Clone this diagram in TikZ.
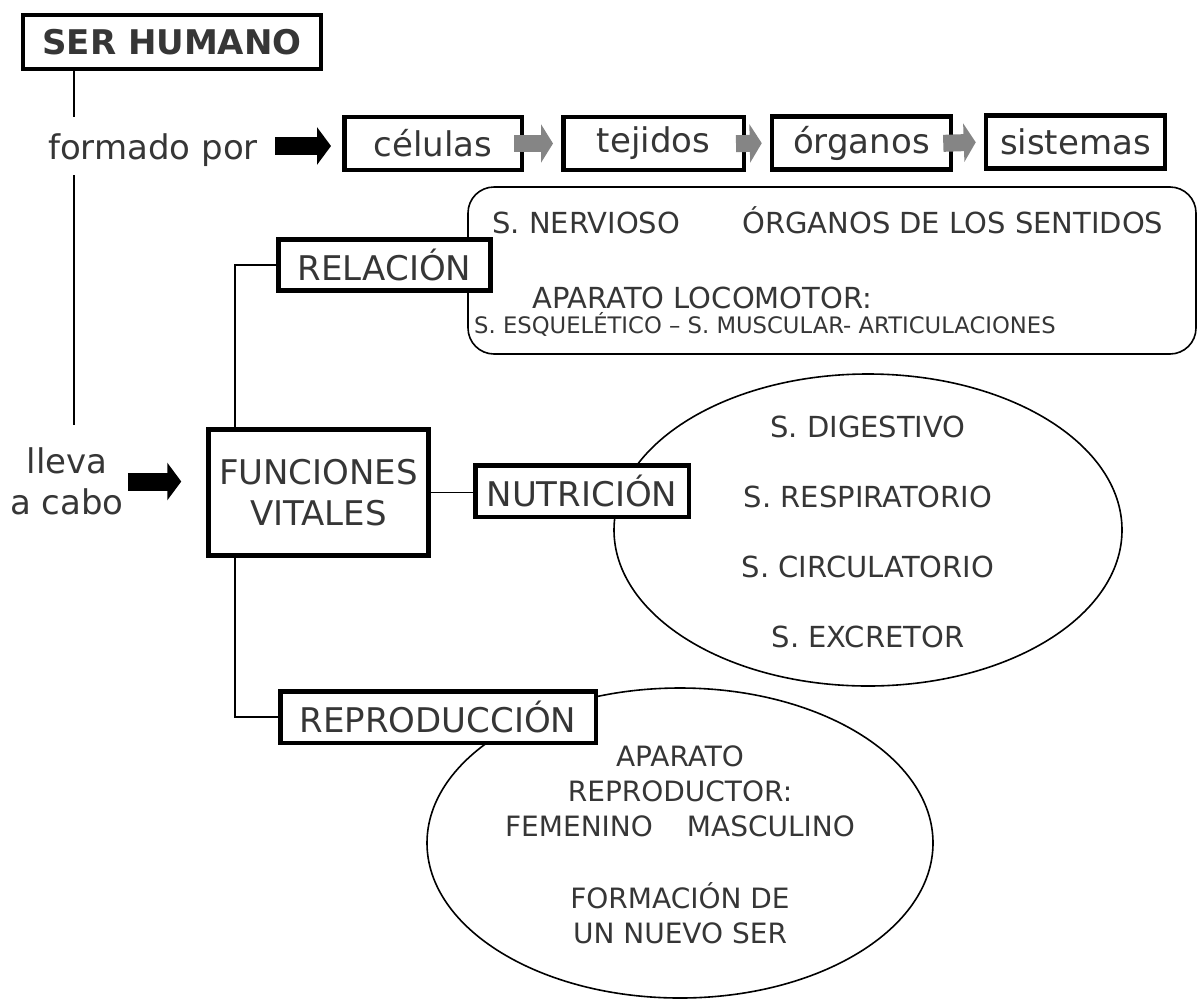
\documentclass[tikz,border=0pt]{standalone}
\usepackage{fontspec}
\setmainfont{DejaVu Sans}
\usetikzlibrary{arrows.meta,positioning,shapes.geometric}
\definecolor{ink}{HTML}{363636}
\definecolor{arrowgray}{HTML}{858585}
\newcommand{\fsbox}{\fontsize{34}{41}\selectfont}
\newcommand{\fsitem}{\fontsize{29}{35}\selectfont}
\newcommand{\fssmall}{\fontsize{22.7}{26}\selectfont}

\begin{document}
\begin{tikzpicture}[x=1pt, y=-1pt,
    every node/.style={text=ink, inner sep=0pt},
    box/.style={rectangle, draw=black, line width=4.5pt, fill=white, font=\fsbox, align=center},
    stage/.style={box, minimum width=179pt, minimum height=53pt},
    cloud/.style={draw=black, line width=1.6pt, fill=white},
    item/.style={font=\fsitem, anchor=base west},
    link/.style={draw=black, line width=1.6pt},
    blockarrow/.style={black, line width=18pt, -{Triangle[length=14pt, width=37pt]}},
    stagearrow/.style={arrowgray, line width=17pt, -{Triangle[length=12pt, width=38pt]},
        shorten <=-10pt, shorten >=8pt},
]
\useasboundingbox (0,0) rectangle (1204,999);
\coordinate (spine) at (74,0);
\coordinate (branch) at (235,0);

% Top concept
\node[box, minimum width=298pt, minimum height=54pt, font=\fsbox\bfseries] (serhumano) at (172,42) {SER HUMANO};
\node[font=\fsbox, text height=26pt, text depth=0pt, inner ysep=16pt] (formado) at (153,146) {formado por};

% Levels of organisation
\node[stage, minimum width=177.5pt] (celulas) at (433,143.5) {células};
\node[stage, minimum width=180.5pt] (tejidos) at (653.5,143.5) {tejidos};
\node[stage] (organos) at (861.5,143) {órganos};
\node[stage] (sistemas) at (1075.5,142) {sistemas};

% Groups of systems
\node[cloud, rounded corners=26pt, minimum width=728pt, minimum height=167pt] (relset) at (832,270.5) {};
\node[item] (nervioso) at (492,233) {S. NERVIOSO};
\node[item] (sentidos) at (742,233) {ÓRGANOS DE LOS SENTIDOS};
\node[item] (locomotor) at (532,308) {APARATO LOCOMOTOR:};
\node[font=\fssmall, anchor=base west] (huesos) at (474,333) {S. ESQUELÉTICO – S. MUSCULAR- ARTICULACIONES};

\node[cloud, ellipse, minimum width=508pt, minimum height=312pt] (nutriset) at (868,530) {};
\node[font={\fontsize{29}{70}\selectfont}, align=center] (nutritext) at (868,532)
    {S. DIGESTIVO\\S. RESPIRATORIO\\S. CIRCULATORIO\\S. EXCRETOR};

\node[cloud, ellipse, minimum width=506pt, minimum height=310pt] (reproset) at (680,843) {};
\node[font={\fontsize{28}{35}\selectfont}, align=center] (reprotext) at (680,845)
    {APARATO\\REPRODUCTOR:\\FEMENINO\hspace{34pt}MASCULINO\\[37pt]FORMACIÓN DE\\UN NUEVO SER};

% Vital functions
\node[font=\fsbox, align=center, inner ysep=23pt] (lleva) at (67,481.5) {lleva\\a cabo};
\node[box, minimum width=220pt, minimum height=126pt] (funciones) at (318.5,492.5) {FUNCIONES\\VITALES};
\node[box, minimum width=212pt, minimum height=51pt] (relacion) at (384.5,265) {RELACIÓN};
\node[box, minimum width=213.5pt, minimum height=51.5pt] (nutricion) at (582,491) {NUTRICIÓN};
\node[box, minimum width=315.5pt, minimum height=51.5pt] (reproduccion) at (438,717) {REPRODUCCIÓN};

% Connectors
\draw[link] (serhumano.south -| spine) -- (formado.north -| spine);
\draw[link] (formado.south -| spine) -- (lleva.north -| spine);
\draw[blockarrow, shorten <=17pt, shorten >=11pt] (formado.east) -- (formado.east -| celulas.west);
\draw[stagearrow] (celulas.east) -- (tejidos.west);
\draw[stagearrow] (tejidos.east) -- (organos.west);
\draw[stagearrow] (organos.east) -- (sistemas.west);
\draw[blockarrow, shorten <=4pt, shorten >=25pt] (lleva.east) -- (lleva.east -| funciones.west);
\draw[link] (relacion.west) -| (funciones.north -| branch);
\draw[link] (funciones.south -| branch) |- (reproduccion.west);
\draw[link] (funciones.east) -- (funciones.east -| nutricion.west);
\end{tikzpicture}
\end{document}
